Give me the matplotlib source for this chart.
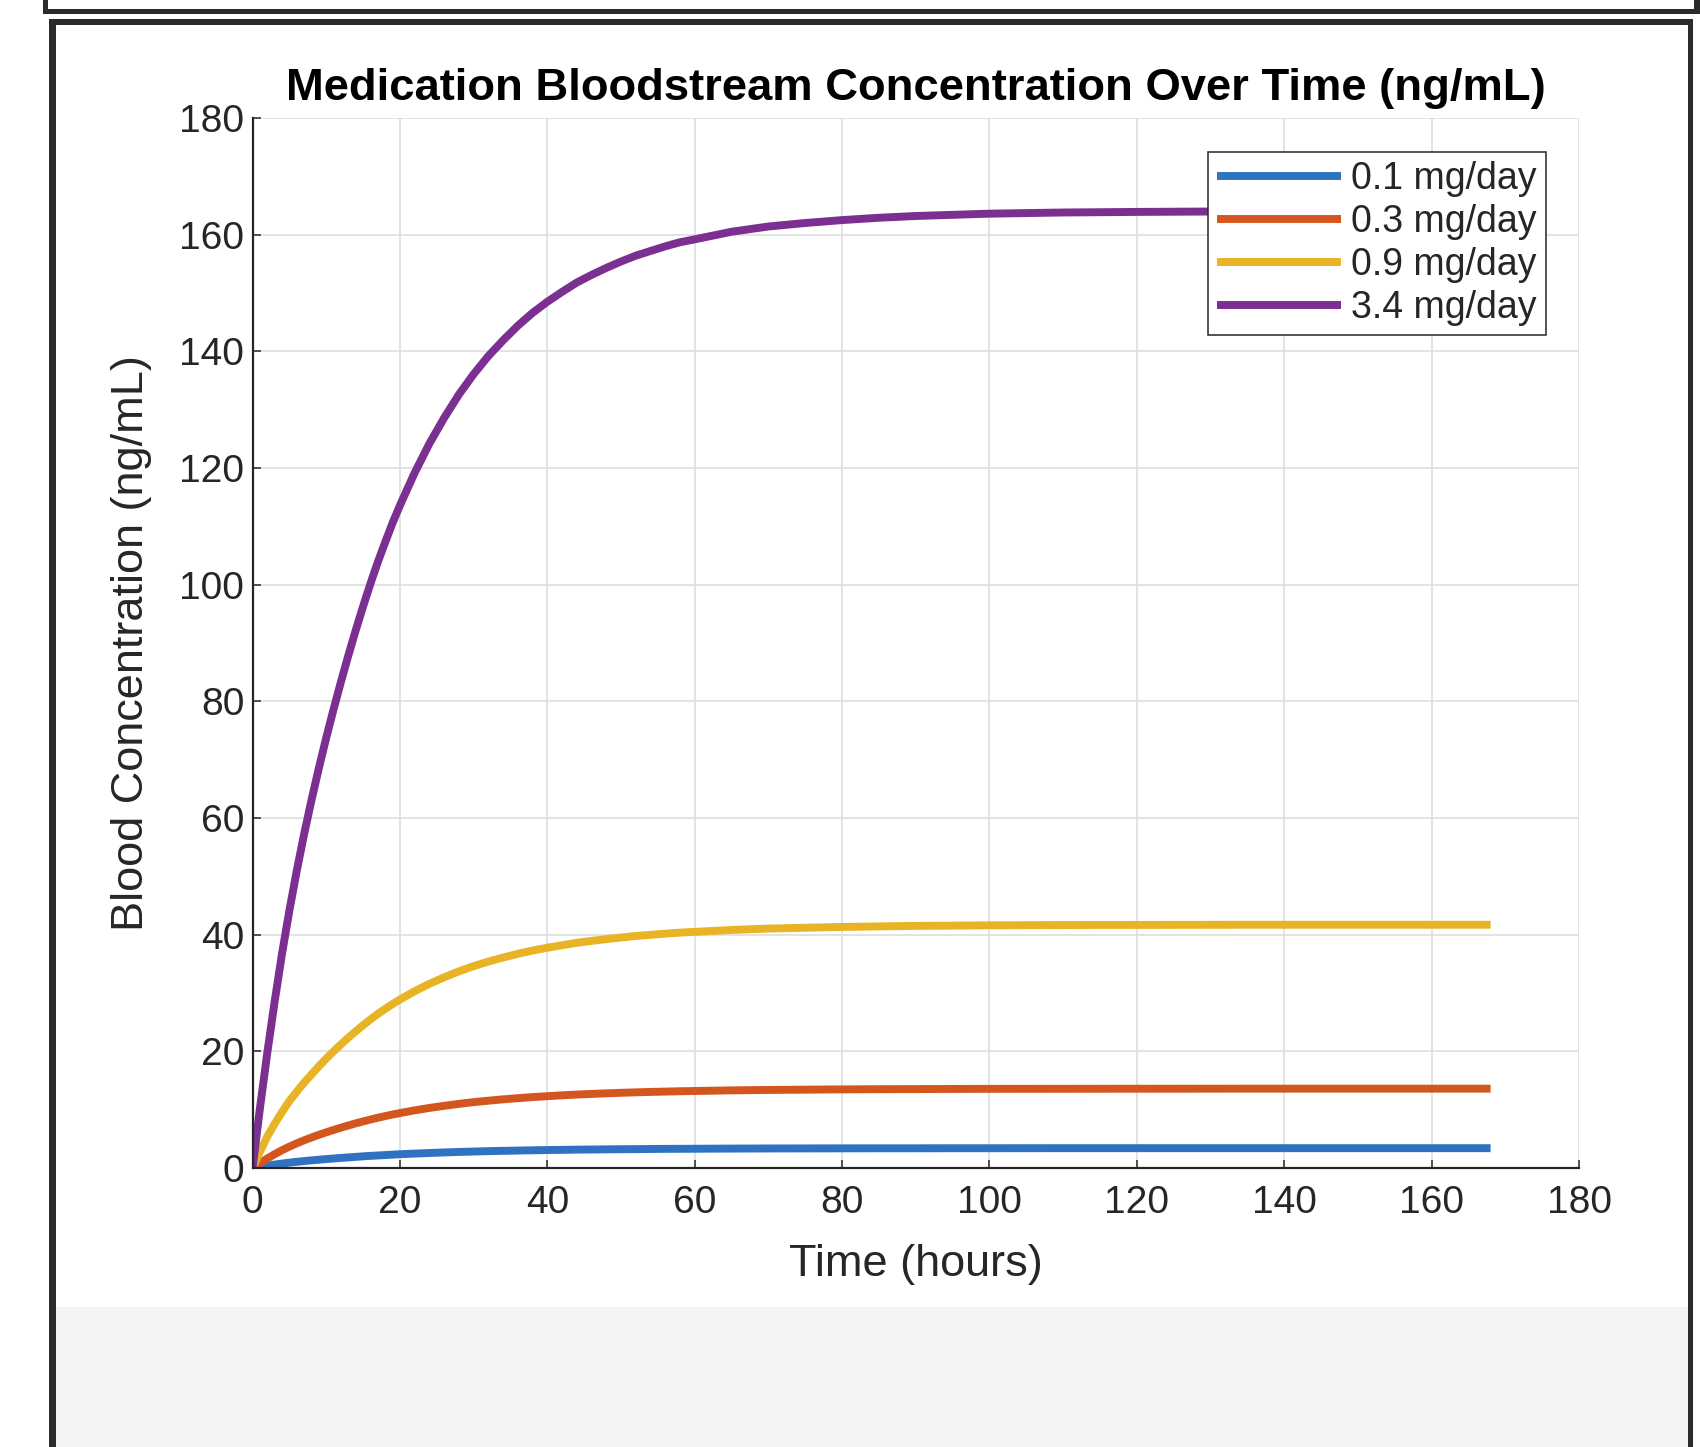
import matplotlib
matplotlib.use("Agg")
import matplotlib.pyplot as plt
from matplotlib.patches import Rectangle

# values (hours, ng/mL)
hours = [0, 1, 2, 3, 4, 5, 6, 7, 8, 9,
         10, 11, 12, 13, 14, 15, 16, 17, 18, 19,
         20, 22, 24, 26, 28, 30, 32, 34, 36, 38,
         40, 42, 44, 46, 48, 50, 52, 54, 56, 58,
         60, 65, 70, 75, 80, 85, 90, 95, 100, 110,
         120, 135, 150, 168]

conc_01 = [0, 0.21, 0.41, 0.59, 0.76, 0.92, 1.06, 1.19, 1.31, 1.42,
           1.53, 1.63, 1.73, 1.82, 1.91, 2.0, 2.08, 2.15, 2.22, 2.29,
           2.36, 2.47, 2.57, 2.67, 2.75, 2.82, 2.89, 2.94, 2.99, 3.04,
           3.08, 3.11, 3.15, 3.17, 3.2, 3.22, 3.24, 3.26, 3.28, 3.29,
           3.3, 3.33, 3.35, 3.36, 3.37, 3.38, 3.38, 3.39, 3.39, 3.4,
           3.4, 3.4, 3.4, 3.4]
conc_03 = [0, 0.85, 1.64, 2.37, 3.05, 3.67, 4.23, 4.75, 5.23, 5.69,
           6.12, 6.53, 6.92, 7.29, 7.65, 7.99, 8.31, 8.62, 8.90, 9.17,
           9.42, 9.88, 10.30, 10.66, 11.0, 11.29, 11.54, 11.77, 11.97, 12.16,
           12.31, 12.46, 12.59, 12.70, 12.80, 12.89, 12.97, 13.04, 13.10, 13.16,
           13.20, 13.31, 13.38, 13.43, 13.48, 13.51, 13.53, 13.55, 13.57, 13.58,
           13.59, 13.6, 13.6, 13.6]
conc_09 = [0, 2.8, 5.4, 7.6, 9.6, 11.5, 13.1, 14.65, 16.05, 17.44,
           18.77, 20.01, 21.2, 22.35, 23.44, 24.49, 25.48, 26.42, 27.28, 28.12,
           28.89, 30.31, 31.58, 32.70, 33.71, 34.61, 35.39, 36.08, 36.72, 37.28,
           37.76, 38.19, 38.60, 38.93, 39.24, 39.51, 39.77, 39.97, 40.17, 40.35,
           40.48, 40.81, 41.04, 41.19, 41.32, 41.42, 41.50, 41.55, 41.60, 41.65,
           41.67, 41.7, 41.7, 41.7]
conc_34 = [0, 10.3, 19.8, 28.6, 36.8, 44.2, 51.0, 57.3, 63.1, 68.6,
           73.8, 78.7, 83.4, 87.9, 92.2, 96.3, 100.2, 103.9, 107.3, 110.6,
           113.6, 119.2, 124.2, 128.6, 132.6, 136.1, 139.2, 141.9, 144.4, 146.6,
           148.5, 150.2, 151.8, 153.1, 154.3, 155.4, 156.4, 157.2, 158.0, 158.7,
           159.2, 160.5, 161.4, 162.0, 162.5, 162.9, 163.2, 163.4, 163.6, 163.8,
           163.9, 164.0, 164.0, 164.0]

labels = ['0.1 mg/day', '0.3 mg/day', '0.9 mg/day', '3.4 mg/day']
colors = ['#2f72c2', '#d4561f', '#e8b425', '#7b2f91']

W, H = 1700, 1447
plt.rcParams['font.family'] = ['Liberation Sans', 'DejaVu Sans']
fig = plt.figure(figsize=(W / 100, H / 100), dpi=100)
fig.patch.set_facecolor('white')


def box(x0, y0, x1, y1, color):
    # rectangle in screenshot pixel coords (origin top-left)
    r = Rectangle((x0 / W, 1 - y1 / H), (x1 - x0) / W, (y1 - y0) / H,
                  transform=fig.transFigure, facecolor=color, edgecolor='none', zorder=0)
    fig.patches.append(r)


# screenshot frame around the figure
frame = '#2b2b2b'
box(56, 1307, 1688, H, '#f4f4f4')
box(43, 9, 1700, 14, frame)
box(43, 0, 48, 14, frame)
box(1694, 0, 1700, 14, frame)
box(49, 19, 1693, 25, frame)
box(49, 19, 56, H, frame)
box(1688, 19, 1693, H, frame)

ax = fig.add_axes([252.6 / W, 1 - 1168 / H, 1326.4 / W, 1050 / H])

for y, lab, c in zip([conc_01, conc_03, conc_09, conc_34], labels, colors):
    ax.plot(hours, y, color=c, lw=5.7, label=lab, solid_capstyle='butt')

ax.set_xlim(0, 180)
ax.set_ylim(0, 180)
ax.set_xticks(range(0, 181, 20))
ax.set_yticks(range(0, 181, 20))
ax.grid(True, color='#dedede', lw=1.2)
ax.set_axisbelow(True)
for s in ['top', 'right']:
    ax.spines[s].set_visible(False)
for s in ['left', 'bottom']:
    ax.spines[s].set_color('#262626')
    ax.spines[s].set_linewidth(1.6)
ax.tick_params(direction='in', length=5.5, width=1.1, colors='#262626',
               labelsize=28, labelcolor='#262626')
ax.tick_params(axis='x', pad=12.5)
ax.tick_params(axis='y', pad=6)

ax.set_title('Medication Bloodstream Concentration Over Time (ng/mL)',
             fontsize=32.7, fontweight='bold', color='black', pad=12.7)
ax.set_xlabel('Time (hours)', fontsize=32.5, color='#262626')
ax.set_ylabel('Blood Concentration (ng/mL)', fontsize=32.5, color='#262626')
ax.xaxis.set_label_coords(0.5, -0.072)
ax.yaxis.set_label_coords(-0.076, 0.5)

leg = ax.legend(loc='upper right', bbox_to_anchor=(0.9751, 0.9676), borderaxespad=0,
                fontsize=27, fancybox=False, framealpha=1, edgecolor='#262626',
                handlelength=3.3, handletextpad=0.27, borderpad=0.25,
                labelspacing=0.18)
leg.get_frame().set_linewidth(1.1)
for t in leg.get_texts():
    t.set_color('#262626')

plt.savefig('out.png', dpi=100)
